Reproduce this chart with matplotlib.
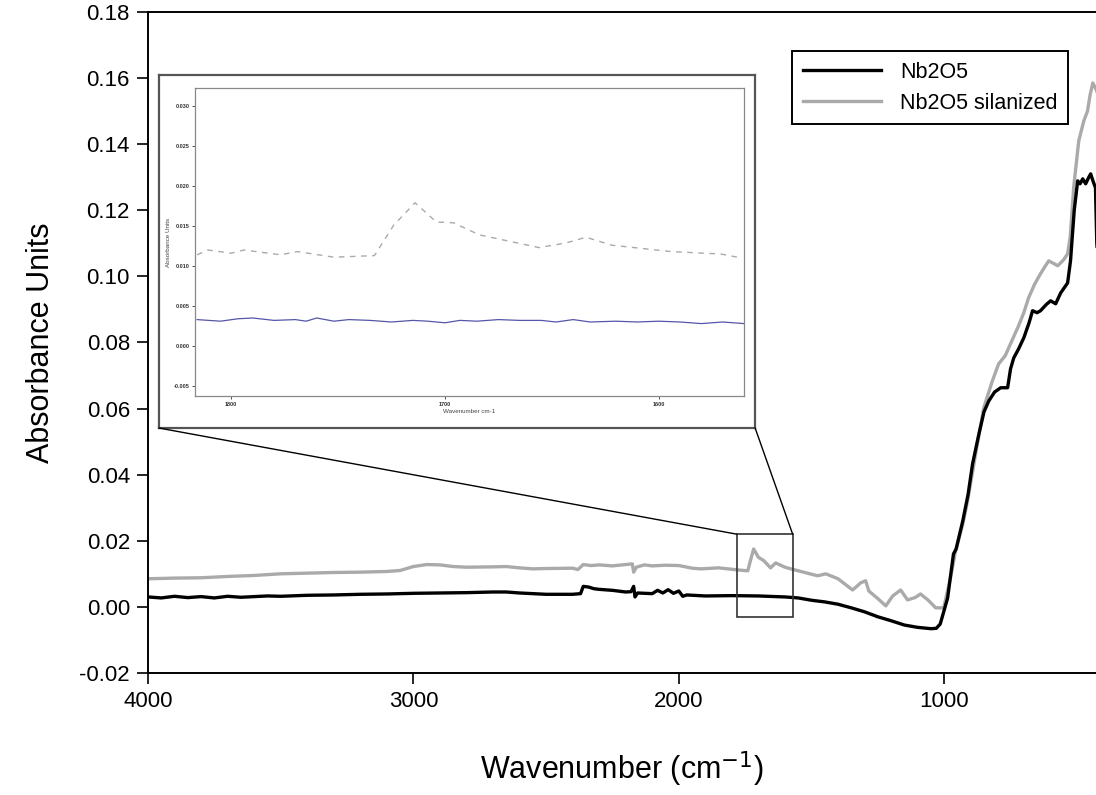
import matplotlib
matplotlib.use('agg')
import matplotlib.pyplot as plt
from matplotlib.patches import Rectangle, ConnectionPatch

plt.rcParams['font.family'] = ['Liberation Sans', 'DejaVu Sans']

# main spectra (wavenumber, absorbance)
wn_plain = [4000, 3950, 3900, 3850, 3800, 3750, 3700, 3650, 3600, 3550, 3500, 3400, 3300,
            3200, 3100, 3000, 2900, 2800, 2700, 2650, 2600, 2500, 2400, 2370, 2360, 2340,
            2320, 2300, 2250, 2200, 2180, 2170, 2165, 2155, 2100, 2080, 2060, 2040, 2020,
            2000, 1985, 1970, 1900, 1800, 1700, 1600, 1550, 1500, 1450, 1400, 1350, 1300,
            1250, 1200, 1150, 1100, 1050, 1030, 1015, 1000, 987, 975, 965, 955, 945, 930,
            910, 893, 870, 850, 832, 810, 787, 761, 750, 738, 720, 700, 680, 667, 650, 637,
            615, 599, 580, 561, 535, 524, 510, 497, 488, 478, 467, 455, 448, 440, 430, 425,
            420]
abs_plain = [0.0030, 0.0027, 0.0032, 0.0028, 0.0031, 0.0027, 0.0032, 0.0029, 0.0031, 0.0033,
             0.0032, 0.0035, 0.0036, 0.0038, 0.0039, 0.0041, 0.0042, 0.0043, 0.0045, 0.0045,
             0.0042, 0.0038, 0.0038, 0.0040, 0.0062, 0.0060, 0.0055, 0.0053, 0.0050, 0.0045,
             0.0046, 0.0062, 0.0030, 0.0042, 0.0040, 0.0050, 0.0042, 0.0052, 0.0041, 0.0048,
             0.0032, 0.0036, 0.0033, 0.0034, 0.0033, 0.0030, 0.0027, 0.0020, 0.0015, 0.0008,
             -0.0003, -0.0015, -0.0030, -0.0042, -0.0055, -0.0062, -0.0066, -0.0065, -0.0052,
             -0.0010, 0.0027, 0.0100, 0.0160, 0.0175, 0.0209, 0.0260, 0.0340, 0.0433, 0.0520,
             0.0590, 0.0623, 0.0650, 0.0663, 0.0663, 0.0720, 0.0753, 0.0780, 0.0814, 0.0860,
             0.0896, 0.0890, 0.0896, 0.0915, 0.0926, 0.0917, 0.0950, 0.0980, 0.1047, 0.1200,
             0.1289, 0.1280, 0.1295, 0.1280, 0.1300, 0.1310, 0.1290, 0.1268, 0.1100, 0.1040]

wn_sil = [4000, 3900, 3800, 3700, 3600, 3500, 3400, 3300, 3200, 3100, 3050, 3000, 2950, 2900,
          2850, 2800, 2700, 2650, 2600, 2550, 2500, 2400, 2380, 2360, 2330, 2300, 2250, 2200,
          2175, 2170, 2160, 2130, 2100, 2050, 2000, 1980, 1950, 1917, 1850, 1780, 1740, 1730,
          1718, 1700, 1680, 1654, 1635, 1600, 1578, 1530, 1477, 1446, 1400, 1345, 1314, 1296,
          1284, 1250, 1220, 1194, 1164, 1138, 1110, 1089, 1060, 1032, 1002, 976, 957, 930,
          912, 880, 851, 820, 795, 770, 750, 720, 700, 682, 660, 637, 620, 606, 590, 572,
          550, 535, 525, 512, 493, 474, 460, 450, 440, 430, 420]
abs_sil = [0.0085, 0.0087, 0.0088, 0.0092, 0.0095, 0.0100, 0.0102, 0.0104, 0.0105, 0.0107,
           0.0110, 0.0122, 0.0128, 0.0127, 0.0122, 0.0120, 0.0121, 0.0122, 0.0118, 0.0115,
           0.0116, 0.0117, 0.0113, 0.0128, 0.0125, 0.0127, 0.0124, 0.0128, 0.0130, 0.0105,
           0.0120, 0.0127, 0.0124, 0.0126, 0.0125, 0.0122, 0.0117, 0.0115, 0.0118, 0.0112,
           0.0109, 0.0140, 0.0175, 0.0150, 0.0140, 0.0118, 0.0133, 0.0120, 0.0115, 0.0105,
           0.0094, 0.0100, 0.0085, 0.0051, 0.0073, 0.0079, 0.0048, 0.0025, 0.0003, 0.0033,
           0.0051, 0.0021, 0.0028, 0.0039, 0.0020, -0.0003, -0.0003, 0.0088, 0.0170, 0.0250,
           0.0320, 0.0470, 0.0602, 0.0680, 0.0735, 0.0760, 0.0796, 0.0850, 0.0890, 0.0935,
           0.0975, 0.1008, 0.1030, 0.1047, 0.1040, 0.1032, 0.1050, 0.1068, 0.1120, 0.1270,
           0.1410, 0.1470, 0.1500, 0.1550, 0.1585, 0.1570, 0.1550]

# zoomed region shown in the inset
zoom_wn = (1571, 1782)
zoom_abs = (-0.003, 0.022)

# inset spectra (copied instrument screenshot)
inset_wn_sil = [1816, 1811, 1800, 1794, 1777, 1769, 1752, 1733, 1724, 1714, 1704, 1696, 1684,
                1656, 1643, 1634, 1622, 1594, 1571, 1561]
inset_abs_sil = [0.0114, 0.0120, 0.0116, 0.0120, 0.0114, 0.0118, 0.0111, 0.0113, 0.0151,
                 0.0179, 0.0155, 0.0154, 0.0139, 0.0123, 0.0129, 0.0136, 0.0126, 0.0118,
                 0.0115, 0.0110]
inset_wn_plain = [1816, 1805, 1797, 1790, 1780, 1770, 1765, 1760, 1752, 1745, 1735, 1725, 1715,
                  1708, 1700, 1693, 1685, 1675, 1665, 1655, 1648, 1640, 1632, 1620, 1610, 1600,
                  1590, 1580, 1570, 1560]
inset_abs_plain = [0.0033, 0.0031, 0.0034, 0.0035, 0.0032, 0.0033, 0.0031, 0.0035, 0.0031,
                   0.0033, 0.0032, 0.0030, 0.0032, 0.0031, 0.0029, 0.0032, 0.0031, 0.0033,
                   0.0032, 0.0032, 0.0030, 0.0033, 0.0030, 0.0031, 0.0030, 0.0031, 0.0030,
                   0.0028, 0.0030, 0.0028]

fig = plt.figure(figsize=(10.96, 7.95), dpi=100)
ax = fig.add_axes([0.135, 0.1535, 0.865, 0.8315])

l_sil, = ax.plot(wn_sil, abs_sil, color='#aaaaaa', lw=2.4, label='Nb2O5 silanized')
l_plain, = ax.plot(wn_plain, abs_plain, color='black', lw=2.4, label='Nb2O5')

ax.set_xlim(4000, 428)
ax.set_ylim(-0.02, 0.18)
ax.set_xticks([4000, 3000, 2000, 1000])
ax.set_yticks([-0.02, 0, 0.02, 0.04, 0.06, 0.08, 0.10, 0.12, 0.14, 0.16, 0.18])
ax.set_yticklabels(['%.2f' % v for v in ax.get_yticks()])
ax.tick_params(direction='out', length=8, width=1.2, labelsize=16, pad=5)
ax.spines['right'].set_visible(False)
for s in ['left', 'bottom', 'top']:
    ax.spines[s].set_linewidth(1.4)
ax.set_xlabel('Wavenumber (cm$^{-1}$)', fontsize=22, labelpad=27)
ax.set_ylabel('Absorbance Units', fontsize=22, labelpad=17)

leg = ax.legend(handles=[l_plain, l_sil], loc='upper right', bbox_to_anchor=(0.982, 0.957),
                fontsize=15.5, fancybox=False, edgecolor='black', framealpha=1,
                handlelength=3.6, handletextpad=0.9, borderpad=0.5, labelspacing=0.45)
leg.get_frame().set_linewidth(1.4)

rect = Rectangle((zoom_wn[1], zoom_abs[0]), zoom_wn[0] - zoom_wn[1], zoom_abs[1] - zoom_abs[0],
                 fill=False, edgecolor='#333333', lw=1.2, zorder=5)
ax.add_patch(rect)

# inset outer frame (pasted picture)
frame = fig.add_axes([0.145, 0.4616, 0.544, 0.444])
frame.set_xticks([])
frame.set_yticks([])
for s in frame.spines.values():
    s.set_color('#555555')
    s.set_linewidth(1.6)

for xa, xd in [(0, zoom_wn[1]), (1, zoom_wn[0])]:
    con = ConnectionPatch(xyA=(xa, 0), coordsA=frame.transAxes,
                          xyB=(xd, zoom_abs[1]), coordsB=ax.transData,
                          color='black', lw=1.0)
    fig.add_artist(con)

ins = fig.add_axes([0.1779, 0.5019, 0.501, 0.3874])
ins.plot(inset_wn_sil, inset_abs_sil, color='#aaaaaa', lw=1.0, ls=(0, (4, 4)))
ins.plot(inset_wn_plain, inset_abs_plain, color='#5555aa', lw=0.9)
ins.set_xlim(1817, 1560)
ins.set_ylim(-0.00625, 0.03225)
ins.set_xticks([1800, 1700, 1600])
ins.set_yticks([-0.005, 0, 0.005, 0.010, 0.015, 0.020, 0.025, 0.030])
ins.set_yticklabels(['%.3f' % v for v in ins.get_yticks()])
ins.tick_params(length=2, width=0.6, labelsize=4, pad=2, colors='#333333')
for lab in ins.get_xticklabels() + ins.get_yticklabels():
    lab.set_fontweight('bold')
for s in ins.spines.values():
    s.set_color('#888888')
    s.set_linewidth(0.9)
ins.set_xlabel('Wavenumber cm-1', fontsize=4.5, labelpad=2, color='#444444')
ins.set_ylabel('Absorbance Units', fontsize=4.5, labelpad=2, color='#444444')

fig.savefig('out.png', dpi=100)
